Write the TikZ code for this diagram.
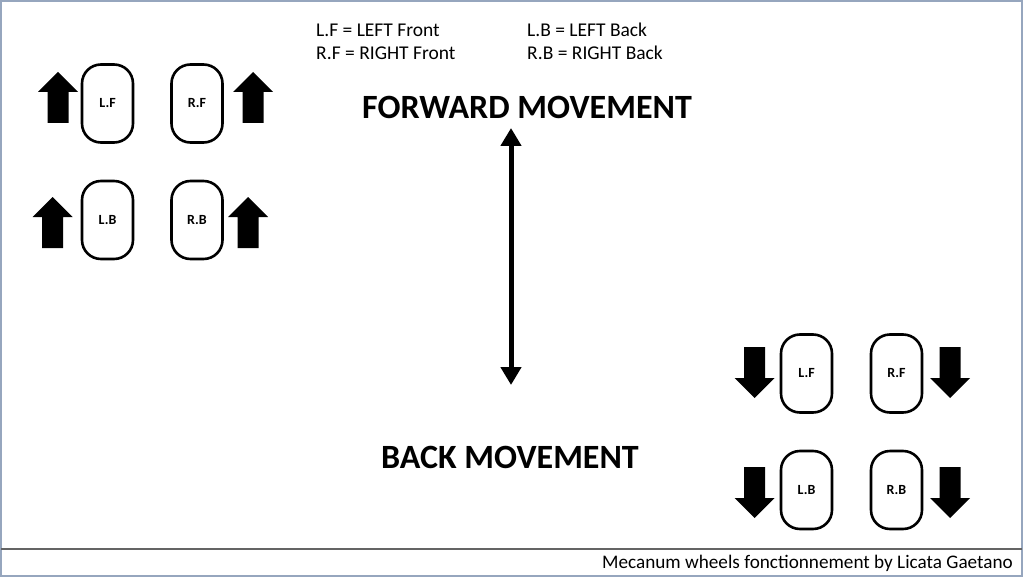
\documentclass[tikz,border=0pt]{standalone}
\usepackage{fontspec}
\setmainfont{Carlito}
\usetikzlibrary{arrows.meta}
\definecolor{framecol}{RGB}{150,166,190}
\definecolor{sepcol}{RGB}{100,100,100}
\tikzset{
  wheel/.style={draw=black, line width=2.6pt, rounded corners=19pt, minimum width=51pt, minimum height=78pt, inner sep=0pt, font=\fontsize{14}{16}\selectfont\bfseries},
  legend/.style={anchor=west, inner sep=0pt, font=\fontsize{19.5}{22}\selectfont},
  title/.style={inner sep=0pt, font=\fontsize{34}{38}\selectfont\bfseries},
  uparr/.pic={\fill[black] (0,-25.5) -- (20,-5.5) -- (10.5,-5.5) -- (10.5,25.5) -- (-10.5,25.5) -- (-10.5,-5.5) -- (-20,-5.5) -- cycle;},
  downarr/.pic={\fill[black] (0,25.5) -- (20,5.5) -- (10.5,5.5) -- (10.5,-25.5) -- (-10.5,-25.5) -- (-10.5,5.5) -- (-20,5.5) -- cycle;}
}
\begin{document}
\begin{tikzpicture}[x=1pt,y=-1pt]
\useasboundingbox (0,0) rectangle (1024,588);
\fill[white] (0,0) rectangle (1024,588);
% frame
\draw[framecol, line width=2pt] (1,1) rectangle (1022,576);
\coordinate (sl) at (1,549);
\coordinate (sr) at (1022,549);
\draw[sepcol, line width=1.2pt] (sl) -- (sr);
% footer
\node[anchor=east, inner sep=0pt, font=\fontsize{19.2}{22}\selectfont] (footer) at (1013,563) {Mecanum wheels fonctionnement by Licata Gaetano};
% legend
\node[legend] (lf) at (316,30) {L.F = LEFT Front};
\node[legend] (rf) at (316,53) {R.F = RIGHT Front};
\node[legend] (lb) at (527,30) {L.B = LEFT Back};
\node[legend] (rb) at (527,53) {R.B = RIGHT Back};
% titles
\node[title] (fwd) at (527,107) {FORWARD MOVEMENT};
\node[title] (back) at (510,457) {BACK MOVEMENT};
% double arrow
\coordinate (atop) at (511,128);
\coordinate (abot) at (511,385);
\draw[line width=5pt, {Triangle[width=20pt,length=18pt]}-{Triangle[width=20pt,length=18pt]}] (atop) -- (abot);
% top-left wheels
\node[wheel] (tlf) at (107.5,103.5) {L.F};
\node[wheel] (trf) at (197,103.5) {R.F};
\node[wheel] (tlb) at (107.5,220) {L.B};
\node[wheel] (trb) at (197,220) {R.B};
\pic at (58,97.5) {uparr};
\pic at (253,97.5) {uparr};
\pic at (52.5,222.5) {uparr};
\pic at (248,222.5) {uparr};
% bottom-right wheels
\node[wheel] (blf) at (806.5,373.5) {L.F};
\node[wheel] (brf) at (896.5,373.5) {R.F};
\node[wheel] (blb) at (806.5,490) {L.B};
\node[wheel] (brb) at (896.5,490) {R.B};
\pic at (754.5,372.5) {downarr};
\pic at (950,372.5) {downarr};
\pic at (754.5,492.5) {downarr};
\pic at (950,492.5) {downarr};
\end{tikzpicture}
\end{document}
